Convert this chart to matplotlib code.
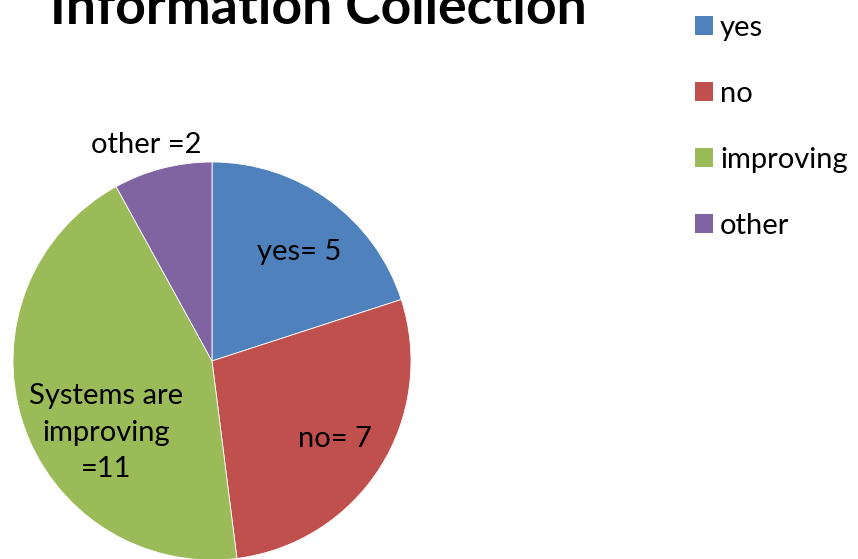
import matplotlib
matplotlib.use("Agg")
import matplotlib.pyplot as plt
from matplotlib.patches import Patch

# Data
categories = ["yes", "no", "improving", "other"]
counts = [5, 7, 11, 2]
slice_labels = ["yes= 5", "no= 7", "Systems are\nimproving\n=11", "other =2"]
colors = ["#4F81BD", "#C0504D", "#9BBB59", "#8064A2"]

# label positions in pie units (radius = 1)
label_pos = [(0.44, 0.55), (0.62, -0.39), (-0.53, -0.36), (-0.33, 1.085)]

plt.rcParams["font.family"] = ["Lato", "DejaVu Sans"]

W, H = 858, 559
fig = plt.figure(figsize=(W / 100, H / 100), dpi=100)

cx, cy, r = 212, 361, 199
ax = fig.add_axes([(cx - r) / W, (H - cy - r) / H, 2 * r / W, 2 * r / H])
ax.pie(counts, colors=colors, startangle=90, counterclock=False, radius=1,
       wedgeprops=dict(edgecolor="white", linewidth=0.6))
ax.set_xlim(-1, 1)
ax.set_ylim(-1, 1)
ax.set_aspect("equal")
ax.axis("off")

for txt, (x, y) in zip(slice_labels, label_pos):
    ax.text(x, y, txt, ha="center", va="center", fontsize=21,
            linespacing=1.5, clip_on=False)

fig.text(318 / W, 1 - 24 / H, "Information Collection", ha="center",
         va="baseline", fontsize=38.5, fontweight="bold")

handles = [Patch(facecolor=c, edgecolor="none") for c in colors]
fig.legend(handles, categories, loc="upper left", bbox_to_anchor=(683 / W, 1 - 3 / H),
           frameon=False, fontsize=21, handlelength=0.62, handleheight=0.62,
           handletextpad=0.25, labelspacing=1.37, borderaxespad=0)

fig.savefig("out.png", dpi=100)
